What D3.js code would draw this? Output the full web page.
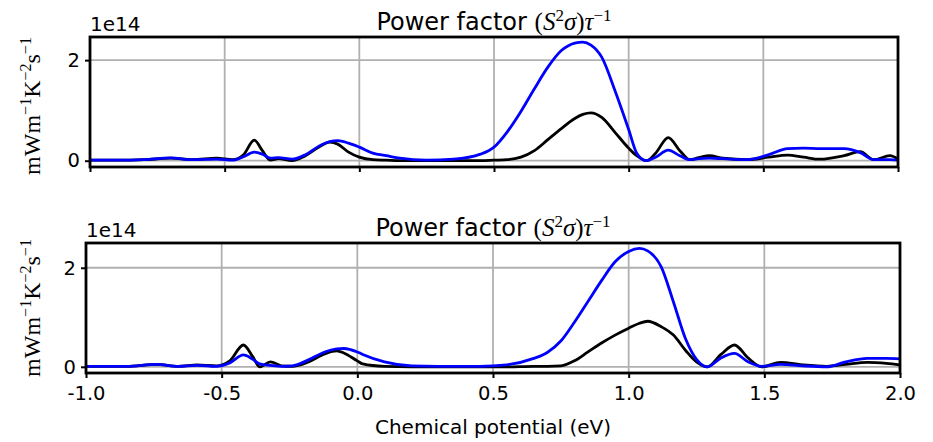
<!DOCTYPE html>
<html lang="en">
<head>
<meta charset="UTF-8">
<title>Power factor</title>
<script src="https://cdn.jsdelivr.net/npm/d3@7/dist/d3.min.js"></script>
<style>
    body { margin: 0; background: #fff; }
    .axis text { font-family: "DejaVu Sans", sans-serif; font-size: 19.5px; fill: #000; }
    .axis path { display: none; }
    .axis line { stroke: #000; stroke-width: 2; }
</style>
</head>
<body>
<script>
    // chemical potential (eV) and power factor (1e14)
    let muTop = [-1.00, -0.90, -0.80, -0.70, -0.62, -0.53, -0.47, -0.43, -0.39, -0.36, -0.33, -0.30, -0.25,
        -0.20, -0.15, -0.11, -0.08, -0.04, 0.00, 0.05, 0.10, 0.15, 0.25, 0.35, 0.45, 0.50, 0.55, 0.60, 0.65,
        0.70, 0.75, 0.80, 0.83, 0.86, 0.90, 0.95, 1.00, 1.03, 1.066, 1.10, 1.147, 1.19, 1.227, 1.26, 1.30,
        1.35, 1.44, 1.52, 1.59, 1.65, 1.71, 1.80, 1.86, 1.91, 1.97, 2.00];
    let blackTop = [0.01, 0.01, 0.02, 0.05, 0.02, 0.05, 0.02, 0.12, 0.41, 0.20, 0.01, 0.04, 0.00,
        0.10, 0.27, 0.37, 0.33, 0.17, 0.07, 0.02, 0.01, 0.00, 0.00, 0.00, 0.00, 0.01, 0.02, 0.07, 0.20,
        0.42, 0.64, 0.84, 0.92, 0.95, 0.86, 0.56, 0.25, 0.10, 0.00, 0.15, 0.46, 0.20, 0.02, 0.06, 0.10,
        0.05, 0.02, 0.07, 0.11, 0.07, 0.03, 0.10, 0.18, 0.02, 0.10, 0.03];
    let blueTop = [0.01, 0.01, 0.02, 0.055, 0.02, 0.03, 0.01, 0.08, 0.17, 0.13, 0.05, 0.06, 0.03,
        0.12, 0.29, 0.38, 0.40, 0.35, 0.27, 0.15, 0.10, 0.05, 0.01, 0.03, 0.13, 0.27, 0.58, 0.98, 1.43,
        1.86, 2.19, 2.34, 2.36, 2.30, 2.06, 1.38, 0.62, 0.15, 0.00, 0.07, 0.21, 0.10, 0.02, 0.04, 0.05,
        0.04, 0.02, 0.12, 0.24, 0.25, 0.24, 0.24, 0.16, 0.02, 0.02, 0.01];

    let muBottom = [-1.00, -0.85, -0.74, -0.66, -0.59, -0.52, -0.47, -0.42, -0.385, -0.36, -0.32, -0.28, -0.24,
        -0.18, -0.12, -0.076, -0.05, 0.00, 0.02, 0.10, 0.20, 0.30, 0.45, 0.55, 0.65, 0.70, 0.75, 0.80, 0.85,
        0.90, 0.95, 1.00, 1.04, 1.07, 1.12, 1.165, 1.21, 1.25, 1.29, 1.34, 1.39, 1.44, 1.49, 1.56, 1.64,
        1.73, 1.80, 1.88, 1.95, 2.00];
    let blackBottom = [0.01, 0.01, 0.05, 0.01, 0.04, 0.02, 0.12, 0.44, 0.20, 0.00, 0.10, 0.02, 0.01,
        0.10, 0.26, 0.32, 0.28, 0.12, 0.06, 0.01, 0.00, 0.00, 0.00, 0.00, 0.01, 0.01, 0.02, 0.12, 0.30,
        0.48, 0.64, 0.78, 0.88, 0.92, 0.81, 0.64, 0.33, 0.10, 0.00, 0.25, 0.44, 0.18, 0.00, 0.09, 0.04,
        0.01, 0.05, 0.09, 0.07, 0.04];
    let blueBottom = [0.01, 0.01, 0.05, 0.01, 0.03, 0.01, 0.08, 0.24, 0.15, 0.06, 0.03, 0.01, 0.02,
        0.14, 0.30, 0.36, 0.37, 0.30, 0.25, 0.10, 0.02, 0.01, 0.01, 0.04, 0.17, 0.29, 0.52, 0.90, 1.32,
        1.74, 2.12, 2.33, 2.39, 2.34, 2.02, 1.31, 0.56, 0.15, 0.00, 0.18, 0.27, 0.10, 0.01, 0.05, 0.02,
        0.00, 0.10, 0.17, 0.17, 0.16];

    let xTicks = [-1.0, -0.5, 0.0, 0.5, 1.0, 1.5, 2.0];
    let yTicks = [0, 2];

    let width = 933;
    let height = 442;

    let svg = d3.select("body")
        .append("svg")
        .attr("width", width)
        .attr("height", height);

    let panels = [
        {mu: muTop, black: blackTop, blue: blueTop, left: 90, right: 898, top: 37, bottom: 167,
            yMax: 2.46, labels: false, labelY: 106},
        {mu: muBottom, black: blackBottom, blue: blueBottom, left: 86, right: 900, top: 243, bottom: 373,
            yMax: 2.5, labels: true, labelY: 308}
    ];

    panels.forEach(function (p) {
        let xScale = d3.scaleLinear()
            .domain([-1, 2])
            .range([p.left, p.right]);

        let yScale = d3.scaleLinear()
            .domain([-0.125, p.yMax])
            .range([p.bottom, p.top]);

        let g = svg.append("g");

        // grid
        g.selectAll(".vgrid")
            .data(xTicks)
            .enter()
            .append("line")
            .attr("x1", d => xScale(d))
            .attr("x2", d => xScale(d))
            .attr("y1", p.top)
            .attr("y2", p.bottom)
            .attr("stroke", "#b0b0b0")
            .attr("stroke-width", 1.8);

        g.selectAll(".hgrid")
            .data(yTicks)
            .enter()
            .append("line")
            .attr("x1", p.left)
            .attr("x2", p.right)
            .attr("y1", d => yScale(d))
            .attr("y2", d => yScale(d))
            .attr("stroke", "#b0b0b0")
            .attr("stroke-width", 1.8);

        let line = d3.line()
            .x((d, i) => xScale(p.mu[i]))
            .y(d => yScale(d))
            .curve(d3.curveMonotoneX);

        g.append("path")
            .attr("d", line(p.black))
            .attr("fill", "none")
            .attr("stroke", "#000")
            .attr("stroke-width", 2.8);

        g.append("path")
            .attr("d", line(p.blue))
            .attr("fill", "none")
            .attr("stroke", "#0000ff")
            .attr("stroke-width", 2.8);

        // frame
        g.append("rect")
            .attr("x", p.left)
            .attr("y", p.top)
            .attr("width", p.right - p.left)
            .attr("height", p.bottom - p.top)
            .attr("fill", "none")
            .attr("stroke", "#000")
            .attr("stroke-width", 2.8);

        let xAxis = d3.axisBottom(xScale)
            .tickValues(xTicks)
            .tickSize(5)
            .tickPadding(8)
            .tickFormat(d => p.labels ? d3.format(".1f")(d).replace("−", "-") : "");

        g.append("g")
            .attr("class", "axis")
            .attr("transform", "translate(0," + p.bottom + ")")
            .call(xAxis);

        let yAxis = d3.axisLeft(yScale)
            .tickValues(yTicks)
            .tickSize(5)
            .tickPadding(5)
            .tickFormat(d3.format("d"));

        g.append("g")
            .attr("class", "axis")
            .attr("transform", "translate(" + p.left + ",0)")
            .call(yAxis);

        // offset text
        g.append("text")
            .text("1e14")
            .attr("x", p.left)
            .attr("y", p.top - 6)
            .attr("font-family", "DejaVu Sans")
            .attr("font-size", "20px");

        // title
        let title = g.append("text")
            .attr("x", (p.left + p.right) / 2)
            .attr("y", p.top - 7)
            .attr("text-anchor", "middle")
            .attr("font-size", "25px");
        title.append("tspan").attr("font-family", "DejaVu Sans").attr("font-size", "24px").text("Power factor ");
        title.append("tspan").attr("font-family", "Liberation Serif").text("(");
        title.append("tspan").attr("font-family", "Liberation Serif").attr("font-style", "italic").text("S");
        title.append("tspan").attr("font-family", "Liberation Serif").attr("font-size", "17px").attr("dy", -9).text("2");
        title.append("tspan").attr("font-family", "Liberation Serif").attr("font-style", "italic").attr("dy", 9).text("σ");
        title.append("tspan").attr("font-family", "Liberation Serif").text(")");
        title.append("tspan").attr("font-family", "Liberation Serif").attr("font-style", "italic").text("τ");
        title.append("tspan").attr("font-family", "Liberation Serif").attr("font-size", "17px").attr("dy", -9).text("−1");

        // y label
        let ylab = g.append("text")
            .attr("transform", "translate(40," + p.labelY + ") rotate(-90)")
            .attr("text-anchor", "middle")
            .attr("font-family", "Liberation Serif")
            .attr("font-size", "24px");
        ylab.append("tspan").text("mWm");
        ylab.append("tspan").attr("font-size", "16px").attr("dy", -9).text("−1");
        ylab.append("tspan").attr("dy", 9).text("K");
        ylab.append("tspan").attr("font-size", "16px").attr("dy", -9).text("−2");
        ylab.append("tspan").attr("dy", 9).text("s");
        ylab.append("tspan").attr("font-size", "16px").attr("dy", -9).text("−1");
    });

    svg.append("text")
        .text("Chemical potential (eV)")
        .attr("x", 493)
        .attr("y", 434)
        .attr("text-anchor", "middle")
        .attr("font-family", "DejaVu Sans")
        .attr("font-size", "20px")
        .attr("fill", "#000");
</script>
</body>
</html>
